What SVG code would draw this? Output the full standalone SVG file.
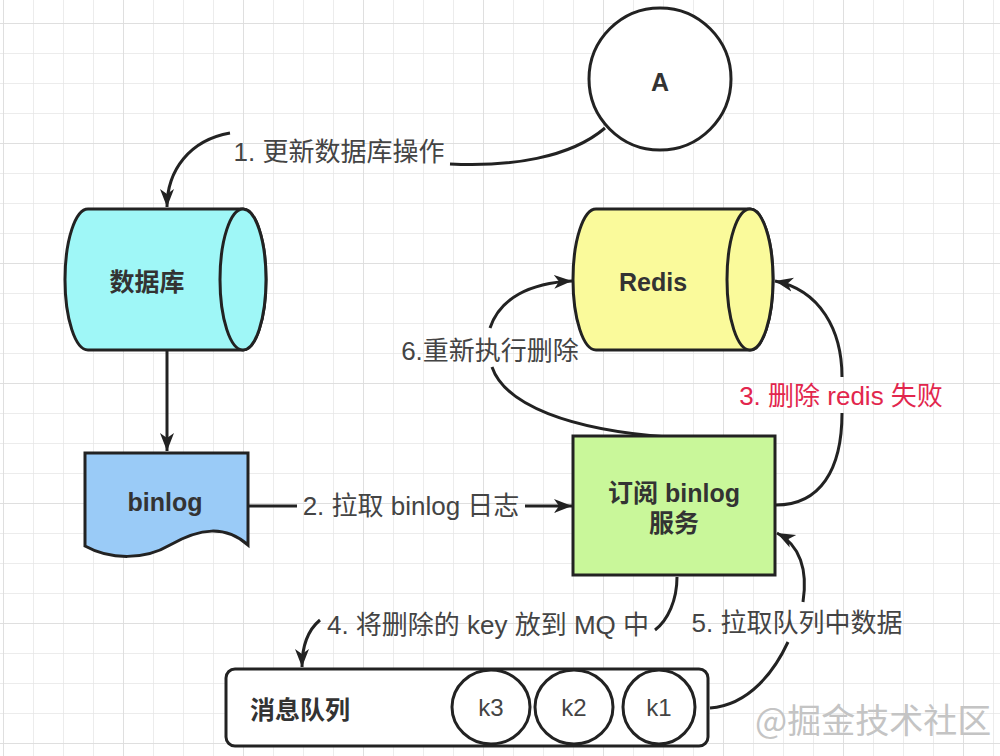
<svg xmlns="http://www.w3.org/2000/svg" width="1000" height="756" viewBox="0 0 1000 756">
<defs>
  <pattern id="grid" x="3" y="23" width="30" height="30" patternUnits="userSpaceOnUse">
    <path d="M0,0 H30 M0,0 V30" fill="none" stroke="#e6e6e6" stroke-width="1.5"/>
  </pattern>
  <pattern id="gridMajor" x="3" y="23" width="120" height="120" patternUnits="userSpaceOnUse">
    <path d="M0,0 H120 M0,0 V120" fill="none" stroke="#dcdcdc" stroke-width="1.5"/>
  </pattern>
  <marker id="arrow" markerUnits="userSpaceOnUse" markerWidth="20" markerHeight="16" refX="18" refY="8" orient="auto">
    <path d="M0,1 L18,8 L0,15 L5,8 Z" fill="#222"/>
  </marker>
  <style>
    .shape { stroke: #222; stroke-width: 3; }
    .edge { fill: none; stroke: #222; stroke-width: 3; }
    .nt { font-family: "Liberation Sans", "Noto Sans CJK SC", sans-serif; font-size: 25px; font-weight: bold; fill: #333; text-anchor: middle; }
    .et { font-family: "Liberation Sans", "Noto Sans CJK SC", sans-serif; font-size: 26px; fill: #444; text-anchor: middle; }
    .kt { font-family: "Liberation Sans", "Noto Sans CJK SC", sans-serif; font-size: 24px; fill: #444; text-anchor: middle; }
    .red { fill: #e2264d; }
  </style>
</defs>
<rect width="1000" height="756" fill="#ffffff"/>
<rect width="1000" height="756" fill="url(#grid)"/>
<rect width="1000" height="756" fill="url(#gridMajor)"/>

<g id="edges">
  <path class="edge" d="M605,128 C570,158 510,167 450,164"/>
  <path class="edge" d="M230,133 C190,140 167,170 167,207" marker-end="url(#arrow)"/>
  <path class="edge" d="M167,350 L167,451" marker-end="url(#arrow)"/>
  <path class="edge" d="M248,506 L297,506"/>
  <path class="edge" d="M525,506 L572,506" marker-end="url(#arrow)"/>
  <path class="edge" d="M776,505 C820,505 842,470 842,413"/>
  <path class="edge" d="M842,377 C842,330 820,290 775,281" marker-end="url(#arrow)"/>
  <path class="edge" d="M668,437 C570,430 505,405 492,367"/>
  <path class="edge" d="M490,328 C500,298 530,283 572,281" marker-end="url(#arrow)"/>
  <path class="edge" d="M677,577 C677,600 668,620 655,630"/>
  <path class="edge" d="M320,620 C308,630 302,645 302,667" marker-end="url(#arrow)"/>
  <path class="edge" d="M710,708 C750,705 775,670 788,642"/>
  <path class="edge" d="M803,602 C808,570 800,545 777,533" marker-end="url(#arrow)"/>
  <text class="et" x="339" y="161">1. 更新数据库操作</text>
  <text class="et" x="411" y="515">2. 拉取 binlog 日志</text>
  <text class="et red" x="841" y="405">3. 删除 redis 失败</text>
  <text class="et" x="488" y="634">4. 将删除的 key 放到 MQ 中</text>
  <text class="et" x="797" y="632">5. 拉取队列中数据</text>
  <text class="et" x="490" y="360">6.重新执行删除</text>
</g>

<g id="node-a">
  <circle class="shape" cx="660" cy="79" r="71" fill="#ffffff"/>
  <text class="nt" x="660" y="91">A</text>
</g>

<g id="node-db">
  <path class="shape" fill="#9ff7f7" d="M88,209 L243,209 A23,70.5 0 0 1 243,350 L88,350 A23,70.5 0 0 1 88,209 Z"/>
  <ellipse class="shape" fill="#9ff7f7" cx="243" cy="279.5" rx="23" ry="70.5"/>
  <text class="nt" x="147" y="291">数据库</text>
</g>

<g id="node-redis">
  <path class="shape" fill="#fafa9b" d="M596,209 L750,209 A23,70.5 0 0 1 750,350 L596,350 A23,70.5 0 0 1 596,209 Z"/>
  <ellipse class="shape" fill="#fafa9b" cx="750" cy="279.5" rx="23" ry="70.5"/>
  <text class="nt" x="653" y="291">Redis</text>
</g>

<g id="node-binlog">
  <path class="shape" fill="#9acbf7" d="M85,453 L248,453 L248,545 C225,525 200,528 170,545 C145,560 110,560 85,546 Z"/>
  <text class="nt" x="165" y="511">binlog</text>
</g>

<g id="node-service">
  <rect class="shape" fill="#c9f79a" x="573" y="436" width="202" height="139"/>
  <text class="nt" x="674" y="502">订阅 binlog</text>
  <text class="nt" x="674" y="532">服务</text>
</g>

<g id="node-mq">
  <rect class="shape" fill="#ffffff" x="226" y="669" width="482" height="77" rx="9"/>
  <text class="nt" x="300" y="719">消息队列</text>
</g>
<g id="node-k3">
  <ellipse class="shape" fill="#ffffff" cx="491" cy="707" rx="39" ry="37"/>
  <text class="kt" x="491" y="716">k3</text>
</g>
<g id="node-k2">
  <ellipse class="shape" fill="#ffffff" cx="574" cy="707" rx="39" ry="37"/>
  <text class="kt" x="574" y="716">k2</text>
</g>
<g id="node-k1">
  <ellipse class="shape" fill="#ffffff" cx="659" cy="707" rx="36" ry="37"/>
  <text class="kt" x="659" y="716">k1</text>
</g>

<text x="755" y="733" font-family="'Noto Sans CJK SC', sans-serif" font-size="34" fill="#c4c4c4">@掘金技术社区</text>
</svg>
